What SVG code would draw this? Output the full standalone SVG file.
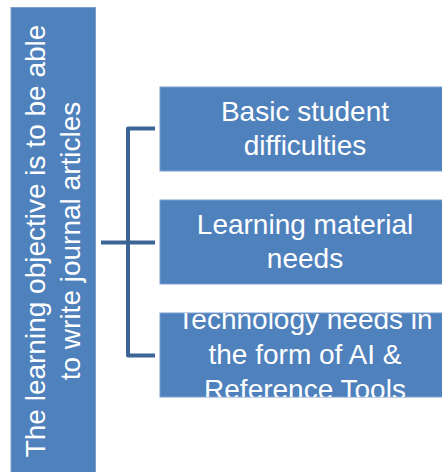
<svg xmlns="http://www.w3.org/2000/svg" width="442" height="472" viewBox="0 0 442 472">
<style>
.box{fill:#4F81BD;stroke:#7C9FCF;stroke-width:1}
.t{font-family:"Liberation Sans",Arial,sans-serif;font-size:28px;fill:#FFFFFF;text-anchor:middle}
.conn{fill:none;stroke:#3D6496;stroke-width:4;stroke-linejoin:round}
</style>
<defs>
<clipPath id="c1"><rect x="160" y="87" width="290" height="84"/></clipPath>
<clipPath id="c2"><rect x="160" y="200" width="290" height="84"/></clipPath>
<clipPath id="c3"><rect x="160" y="313" width="290" height="84"/></clipPath>
</defs>
<rect width="442" height="472" fill="#FFFFFF"/>
<g id="objective">
<rect class="box" x="11" y="7.5" width="84.5" height="470"/>
<text class="t" transform="translate(0,241) rotate(-90)"><tspan x="0" y="45">The learning objective is to be able</tspan><tspan x="0" y="80">to write journal articles</tspan></text>
</g>
<g id="connectors">
<path class="conn" d="M155,128.5 H128 V355.5 H155"/>
<path class="conn" d="M101,242.5 H155"/>
</g>
<g id="difficulties">
<rect class="box" x="160" y="87" width="290" height="84"/>
<text class="t" clip-path="url(#c1)"><tspan x="305" y="121">Basic student</tspan><tspan x="305" y="155">difficulties</tspan></text>
</g>
<g id="material">
<rect class="box" x="160" y="200" width="290" height="84"/>
<text class="t" clip-path="url(#c2)"><tspan x="305" y="234">Learning material</tspan><tspan x="305" y="268">needs</tspan></text>
</g>
<g id="technology">
<rect class="box" x="160" y="313" width="290" height="84"/>
<text class="t" clip-path="url(#c3)"><tspan x="305" y="329">Technology needs in</tspan><tspan x="305" y="364">the form of AI &amp;</tspan><tspan x="305" y="399">Reference Tools</tspan></text>
</g>
</svg>
